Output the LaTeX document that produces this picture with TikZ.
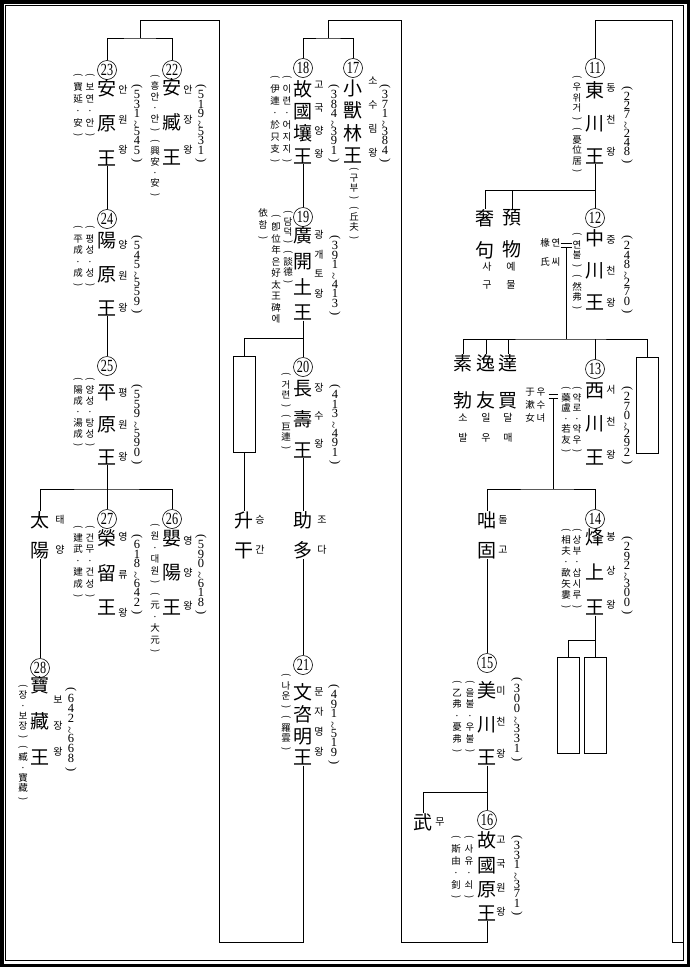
\documentclass[tikz,border=0pt]{standalone}
\usepackage{fontspec}
\usepackage{graphicx}
\setmainfont{Liberation Serif}
\newfontfamily\cjk{Noto Sans CJK KR}
\usetikzlibrary{positioning}

\makeatletter
\newcommand\vcol[2]{\vtop{\baselineskip=#1pt\lineskiplimit=-\maxdimen\lineskip=0pt\vc@loop#2\relax}}
\def\vc@loop#1{\ifx#1\relax\else\hbox to 1em{\hss#1\hss}\expandafter\vc@loop\fi}
\makeatother
\newcommand\vpo{\rotatebox[origin=c]{-90}{(}}
\newcommand\vpc{\rotatebox[origin=c]{-90}{)}}
\newcommand\vwv{\rotatebox[origin=c]{90}{\textasciitilde}}
\newcommand\kno[1]{\scalebox{0.72}[1]{#1}}

\begin{document}
\begin{tikzpicture}[
    x=1pt, y=-1pt,
    link/.style={line width=1pt},
    num/.style={circle, draw, line width=0.6pt, minimum size=19pt, inner sep=0pt, font=\fontsize{17}{17}\selectfont},
    king/.style={inner sep=0pt, font=\cjk\fontsize{19}{19}\selectfont},
    reading/.style={inner sep=0pt, font=\cjk\fontsize{10}{10}\selectfont},
    note/.style={inner sep=0pt, font=\cjk\fontsize{9.5}{9.5}\selectfont},
    date/.style={inner sep=0pt, font=\fontsize{12.5}{12.5}\selectfont},
    slot/.style={draw, line width=1pt, minimum width=22pt, minimum height=96pt, inner sep=0pt}
]
    \useasboundingbox (0,0) rectangle (690,967);
    % Frame
    \draw[line width=3.5pt] (1.75,1.75) rectangle (688.25,965.25);
    \draw[line width=0.8pt] (5.5,5.5) rectangle (683,960);

    % Right column
    \node[num] (c11) at (595,68) {\kno{11}};
    \node[king] (k11) at (595,122.5) {\vcol{33}{東川王}};
    \node[reading] (r11) at (611,120) {\vcol{32}{동천왕}};
    \node[date] (d11) at (627,125.5) {\vcol{9.2}{\vpo 227\vwv 248\vpc}};
    \node[note] (a11) at (577,125) {\vcol{10.5}{\vpo 우위거\vpc\vpo 憂位居\vpc}};

    \node[king] (sagu) at (485,234) {\vcol{32}{奢句}};
    \node[reading] (sagur) at (487,276) {\vcol{18}{사구}};
    \node[king] (yemul) at (512,234) {\vcol{32}{預物}};
    \node[reading] (yemulr) at (511,276) {\vcol{18}{예물}};

    \node[num] (c12) at (595,218) {\kno{12}};
    \node[king] (k12) at (595,270) {\vcol{32}{中川王}};
    \node[reading] (r12) at (611,271) {\vcol{31.5}{중천왕}};
    \node[date] (d12) at (627,275) {\vcol{9.2}{\vpo 248\vwv 270\vpc}};
    \node[note] (a12) at (577,272) {\vcol{10.5}{\vpo 연불\vpc\vpo 然弗\vpc}};
    \node[note] (yeon) at (545,252) {\vcol{19}{椽氏}};
    \node[note] (yeonr) at (556,252) {\vcol{19}{연씨}};
    \coordinate (m12) at (566,245.5);

    \node[king] (sobal) at (463,381.5) {\vcol{37}{素勃}};
    \node[reading] (sobalr) at (463,428) {\vcol{20}{소발}};
    \node[king] (ilu) at (486,381.5) {\vcol{37}{逸友}};
    \node[reading] (ilur) at (486,428) {\vcol{20}{일우}};
    \node[king] (dalmae) at (508,381.5) {\vcol{37}{達買}};
    \node[reading] (dalmaer) at (508,428) {\vcol{20}{달매}};
    \node[slot] (s13) at (647,405) {};

    \node[num] (c13) at (595,369) {\kno{13}};
    \node[king] (k13) at (595,423.5) {\vcol{33.5}{西川王}};
    \node[reading] (r13) at (611,422) {\vcol{32.5}{서천왕}};
    \node[date] (d13) at (627,426) {\vcol{9.2}{\vpo 270\vwv 292\vpc}};
    \node[note] (a13) at (577,420) {\vcol{10.5}{\vpo 약로·약우\vpc}};
    \node[note] (a13b) at (566,420) {\vcol{10.5}{\vpo 藥盧·若友\vpc}};
    \node[note] (usu) at (530,405) {\vcol{13}{于漱女}};
    \node[note] (usur) at (541,405) {\vcol{13}{우수녀}};
    \coordinate (m13) at (553,396.5);

    \node[king] (dolgo) at (487,535) {\vcol{30}{咄固}};
    \node[reading] (dolgor) at (503,535) {\vcol{30}{돌고}};

    \node[num] (c14) at (595,519) {\kno{14}};
    \node[king] (k14) at (595,572) {\vcol{35}{烽上王}};
    \node[reading] (r14) at (611,571) {\vcol{34}{봉상왕}};
    \node[date] (d14) at (627,576) {\vcol{9.2}{\vpo 292\vwv 300\vpc}};
    \node[note] (a14) at (577,569) {\vcol{11}{\vpo 상부·삽시루\vpc}};
    \node[note] (a14b) at (566,569) {\vcol{11}{\vpo 相夫·歃矢婁\vpc}};
    \node[slot] (s14a) at (568,705) {};
    \node[slot] (s14b) at (595,705) {};
    \coordinate (j14) at (595,640);

    \node[num] (c15) at (487,663) {\kno{15}};
    \node[king] (k15) at (487,723.5) {\vcol{33.5}{美川王}};
    \node[reading] (r15) at (501,722) {\vcol{31.5}{미천왕}};
    \node[date] (d15) at (517,720) {\vcol{10}{\vpo 300\vwv 331\vpc}};
    \node[note] (a15) at (470,717) {\vcol{11.5}{\vpo 을불·우불\vpc}};
    \node[note] (a15b) at (457,717) {\vcol{11.5}{\vpo 乙弗·憂弗\vpc}};
    \node[king] (mu) at (423,822) {武};
    \node[reading] (mur) at (440,822) {무};
    \coordinate (j15) at (487,792);

    \node[num] (c16) at (487,820) {\kno{16}};
    \node[king] (k16) at (487,876.5) {\vcol{24.3}{故國原王}};
    \node[reading] (r16) at (501,876) {\vcol{24}{고국원왕}};
    \node[date] (d16) at (517,876) {\vcol{9.6}{\vpo 331\vwv 371\vpc}};
    \node[note] (a16) at (469,868) {\vcol{12}{\vpo 사유·쇠\vpc}};
    \node[note] (a16b) at (456,868) {\vcol{12}{\vpo 斯由·釗\vpc}};

    % Middle column
    \node[num] (c17) at (353,68) {\kno{17}};
    \node[king] (k17) at (353,121.5) {\vcol{22.3}{小獸林王}};
    \node[reading] (r17) at (373,117) {\vcol{24}{소수림왕}};
    \node[date] (d17) at (385,124) {\vcol{9.2}{\vpo 371\vwv 384\vpc}};
    \node[note] (a17) at (354,204) {\vcol{9.8}{\vpo 구부\vpc\vpo 丘夫\vpc}};

    \node[num] (c18) at (303,68) {\kno{18}};
    \node[king] (k18) at (303,122) {\vcol{22.3}{故國壤王}};
    \node[reading] (r18) at (319,120) {\vcol{23}{고국양왕}};
    \node[date] (d18) at (334,124) {\vcol{9.2}{\vpo 384\vwv 391\vpc}};
    \node[note] (a18) at (287,120) {\vcol{12}{\vpo 이련·어지지\vpc}};
    \node[note] (a18b) at (275,120) {\vcol{12}{\vpo 伊連·於只支\vpc}};

    \node[num] (c19) at (303,217) {\kno{19}};
    \node[king] (k19) at (303,273.5) {\vcol{25.7}{廣開土王}};
    \node[reading] (r19) at (319,264) {\vcol{19.5}{광개토왕}};
    \node[date] (d19) at (335,276) {\vcol{9.6}{\vpo 391\vwv 413\vpc}};
    \node[note] (a19) at (288,248) {\vcol{10}{\vpo 담덕\vpc\vpo 談德\vpc}};
    \node[note] (a19b) at (276,269) {\vcol{11.5}{\vpo 卽位年은好太王碑에}};
    \node[note] (a19c) at (263,225) {\vcol{12}{依함\vpc}};
    \coordinate (j19) at (303,338);
    \node[slot] (s19) at (244,404.5) {};
    \node[king] (seung) at (244,535) {\vcol{30}{升干}};
    \node[reading] (seungr) at (260,535) {\vcol{30}{승간}};

    \node[num] (c20) at (303,367) {\kno{20}};
    \node[king] (k20) at (303,419) {\vcol{31}{長壽王}};
    \node[reading] (r20) at (319,416) {\vcol{28}{장수왕}};
    \node[date] (d20) at (335,425) {\vcol{9.6}{\vpo 413\vwv 491\vpc}};
    \node[note] (a20) at (286,412) {\vcol{10.5}{\vpo 거련\vpc\vpo 巨連\vpc}};
    \node[king] (joda) at (303,535) {\vcol{30}{助多}};
    \node[reading] (jodar) at (322,535) {\vcol{30}{조다}};

    \node[num] (c21) at (303,665) {\kno{21}};
    \node[king] (k21) at (303,724.5) {\vcol{21.7}{文咨明王}};
    \node[reading] (r21) at (319,722) {\vcol{20.3}{문자명왕}};
    \node[date] (d21) at (334,725) {\vcol{9.6}{\vpo 491\vwv 519\vpc}};
    \node[note] (a21) at (286,713) {\vcol{10.5}{\vpo 나운\vpc\vpo 羅雲\vpc}};

    % Left column
    \node[num] (c22) at (172,70) {\kno{22}};
    \node[king] (k22) at (172,122) {\vcol{35}{安臧王}};
    \node[reading] (r22) at (188,120) {\vcol{30}{안장왕}};
    \node[date] (d22) at (201,124) {\vcol{9.2}{\vpo 519\vwv 531\vpc}};
    \node[note] (a22) at (155,136) {\vcol{10.8}{\vpo 흥안·안\vpc\vpo 興安·安\vpc}};

    \node[num] (c23) at (107,70) {\kno{23}};
    \node[king] (k23) at (107,122.5) {\vcol{35}{安原王}};
    \node[reading] (r23) at (123,120) {\vcol{30}{안원왕}};
    \node[date] (d23) at (137,124) {\vcol{9.2}{\vpo 531\vwv 545\vpc}};
    \node[note] (a23) at (90,106) {\vcol{12}{\vpo 보연·안\vpc}};
    \node[note] (a23b) at (78,106) {\vcol{12}{\vpo 寶延·安\vpc}};

    \node[num] (c24) at (107,219) {\kno{24}};
    \node[king] (k24) at (107,274) {\vcol{34}{陽原王}};
    \node[reading] (r24) at (123,276) {\vcol{31.5}{양원왕}};
    \node[date] (d24) at (137,275) {\vcol{9.2}{\vpo 545\vwv 559\vpc}};
    \node[note] (a24) at (90,257) {\vcol{11.5}{\vpo 평성·성\vpc}};
    \node[note] (a24b) at (78,257) {\vcol{11.5}{\vpo 平成·成\vpc}};

    \node[num] (c25) at (107,366) {\kno{25}};
    \node[king] (k25) at (107,424.5) {\vcol{32.5}{平原王}};
    \node[reading] (r25) at (123,425) {\vcol{32}{평원왕}};
    \node[date] (d25) at (137,425) {\vcol{9.6}{\vpo 559\vwv 590\vpc}};
    \node[note] (a25) at (90,413) {\vcol{11}{\vpo 양성·탕성\vpc}};
    \node[note] (a25b) at (78,413) {\vcol{11}{\vpo 陽成·湯成\vpc}};
    \coordinate (j25) at (107,489);

    \node[king] (taeyang) at (40,535) {\vcol{30}{太陽}};
    \node[reading] (taeyangr) at (60,535) {\vcol{30}{태양}};

    \node[num] (c26) at (172,519) {\kno{26}};
    \node[king] (k26) at (172,572.5) {\vcol{34.5}{嬰陽王}};
    \node[reading] (r26) at (188,573) {\vcol{32.5}{영양왕}};
    \node[date] (d26) at (201,575) {\vcol{9.6}{\vpo 590\vwv 618\vpc}};
    \node[note] (a26) at (155,589) {\vcol{11.5}{\vpo 원·대원\vpc\vpo 元·大元\vpc}};

    \node[num] (c27) at (107,519) {\kno{27}};
    \node[king] (k27) at (107,572.5) {\vcol{34.5}{榮留王}};
    \node[reading] (r27) at (123,575) {\vcol{38}{영류왕}};
    \node[date] (d27) at (137,575) {\vcol{9.6}{\vpo 618\vwv 642\vpc}};
    \node[note] (a27) at (90,562) {\vcol{11.5}{\vpo 건무·건성\vpc}};
    \node[note] (a27b) at (78,562) {\vcol{11.5}{\vpo 建武·建成\vpc}};

    \node[num] (c28) at (40,668) {\kno{28}};
    \node[king] (k28) at (40,721) {\vcol{36}{寶藏王}};
    \node[reading] (r28) at (58,726) {\vcol{26}{보장왕}};
    \node[date] (d28) at (71,730) {\vcol{10}{\vpo 642\vwv 668\vpc}};
    \node[note] (a28) at (23,743) {\vcol{10.3}{\vpo 장·보장\vpc\vpo 臧·寶藏\vpc}};

    % Paths
    \coordinate (in11) at (683,942);
    \coordinate (t11a) at (672,942);
    \coordinate (t11b) at (672,20);
    \coordinate (j11) at (595,190);
    \coordinate (j12) at (566,339);
    \coordinate (j13) at (553,489);
    \coordinate (j16a) at (401,942);
    \coordinate (j16b) at (401,20);
    \coordinate (j17) at (328,38);
    \coordinate (j21a) at (219,942);
    \coordinate (j21b) at (219,20);
    \coordinate (j22) at (140,38);

    \draw[link] (in11) -- (t11a) -- (t11b) -| (c11.north);
    \draw[link] (k11) -- (c12);
    \draw[link] (sagu.north) |- (j11);
    \draw[link] (yemul.north) -- (yemul.north |- j11);
    \draw[link] ([shift={(-5.5,-1.8)}]m12) -- ++(11,0) ([shift={(-5.5,1.8)}]m12) -- ++(11,0);
    \draw[link] ([shift={(0,1.8)}]m12) -- (j12);
    \draw[link] (sobal.north) |- (j12) -| (s13.north);
    \draw[link] (ilu.north) -- (ilu.north |- j12);
    \draw[link] (dalmae.north) -- (dalmae.north |- j12);
    \draw[link] (c13.north) -- (c13.north |- j12);
    \draw[link] ([shift={(-4.5,-1.8)}]m13) -- ++(9,0) ([shift={(-4.5,1.8)}]m13) -- ++(9,0);
    \draw[link] ([shift={(0,1.8)}]m13) -- (j13);
    \draw[link] (dolgo.north) |- (j13) -| (c14.north);
    \draw[link] (k14) -- (s14b);
    \draw[link] (j14) -| (s14a.north);
    \draw[link] (dolgo) -- (c15);
    \draw[link] (k15) -- (c16);
    \draw[link] (mu.north) |- (j15);
    \draw[link] (k16.south) |- (j16a) -- (j16b) -| (j17);
    \draw[link] (c18.north) |- (j17) -| (c17.north);

    \draw[link] (k18) -- (c19);
    \draw[link] (k19) -- (c20);
    \draw[link] (j19) -| (s19.north);
    \draw[link] (s19) -- (seung);
    \draw[link] (k20) -- (joda);
    \draw[link] (joda) -- (c21);
    \draw[link] (k21.south) |- (j21a) -- (j21b) -| (j22);
    \draw[link] (c23.north) |- (j22) -| (c22.north);

    \draw[link] (k23) -- (c24);
    \draw[link] (k24) -- (c25);
    \draw[link] (k25) -- (c27);
    \draw[link] (taeyang.north) |- (j25) -| (c26.north);
    \draw[link] (taeyang) -- (c28);
\end{tikzpicture}
\end{document}
